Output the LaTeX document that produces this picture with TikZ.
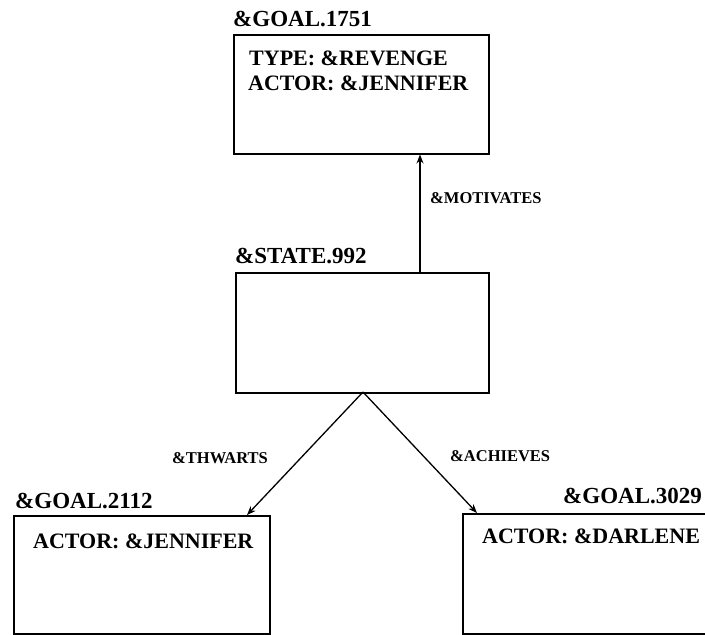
\documentclass[tikz,border=0pt]{standalone}
\usepackage{fontspec}
\setmainfont{Liberation Serif}
\usetikzlibrary{arrows.meta}
\tikzset{
  box/.style={draw, line width=1.5pt, rectangle, inner sep=0pt, anchor=north west},
  title/.style={font=\bfseries\fontsize{23}{25}\selectfont, anchor=base west, inner sep=0pt},
  field/.style={font=\bfseries\fontsize{22}{24}\selectfont, anchor=base west, inner sep=0pt},
  rel/.style={font=\bfseries\fontsize{16.5}{18}\selectfont, anchor=base west, inner sep=0pt},
  link/.style={line width=1.3pt, -{Stealth[length=9pt,width=7pt]}}
}
\begin{document}
\begin{tikzpicture}[x=1pt,y=-1pt]
\useasboundingbox (0,0) rectangle (705,635);
\clip (0,0) rectangle (705,635);
% boxes
\node[box, minimum width=255pt, minimum height=119pt] (g1751) at (233,34) {};
\node[box, minimum width=253pt, minimum height=120pt] (state) at (235,272) {};
\node[box, minimum width=256pt, minimum height=118pt] (g2112) at (13,515) {};
\node[box, minimum width=270pt, minimum height=120pt] (g3029) at (462,513) {};
% titles
\node[title] (t1751) at (233,26) {\&GOAL.1751};
\node[title] (t992) at (235,263) {\&STATE.992};
\node[title] (t2112) at (15,508) {\&GOAL.2112};
\node[title] (t3029) at (563,503) {\&GOAL.3029};
% fields
\node[field] (f1) at (249,65) {TYPE: \&REVENGE};
\node[field] (f2) at (248,90) {ACTOR: \&JENNIFER};
\node[field] (f3) at (33,548) {ACTOR: \&JENNIFER};
\node[field] (f4) at (482,543) {ACTOR: \&DARLENE};
% relation labels
\node[rel] (rmot) at (430,203) {\&MOTIVATES};
\node[rel] (rthw) at (172,463) {\&THWARTS};
\node[rel] (rach) at (450,461) {\&ACHIEVES};
% connectors
\coordinate (mx) at (420,0);
\coordinate (sb) at (363,392);
\coordinate (tw) at (247,0);
\coordinate (ac) at (477,0);
\draw[link] (state.north -| mx) -- (g1751.south -| mx);
\draw[link] (sb) -- (g2112.north -| tw);
\draw[link] (sb) -- (g3029.north -| ac);
\end{tikzpicture}
\end{document}
